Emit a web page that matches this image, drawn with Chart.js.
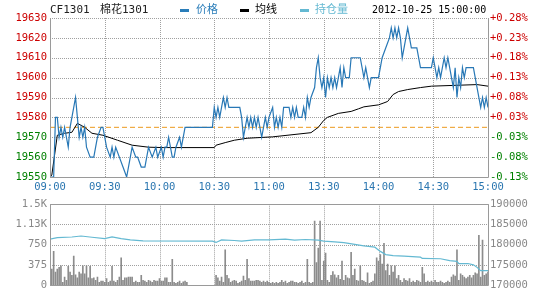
<!DOCTYPE html>
<html lang="zh-CN">
<head>
<meta charset="UTF-8">
<title>CF1301 棉花1301 分时</title>
<script src="https://cdn.jsdelivr.net/npm/chart.js"></script>
<style>
  body { margin: 0; background: #fff; }
  #wrap { position: relative; width: 540px; height: 300px; overflow: hidden;
          font-family: "DejaVu Sans Mono", "Noto Sans CJK SC", monospace; }
  #top { position: absolute; left: 0; top: 0; }
  #bottom { position: absolute; left: 0; top: 195px; }
  .hd { position: absolute; top: 3px; font-size: 11px; line-height: 14px; white-space: nowrap; color: #222; }
  .dash { position: absolute; top: 9px; width: 9px; height: 3px; }
</style>
</head>
<body>
<div id="wrap">
  <canvas id="top" width="540" height="195"></canvas>
  <canvas id="bottom" width="540" height="105"></canvas>
  <span class="hd" style="left:50px">CF1301</span>
  <span class="hd" style="left:100px">棉花1301</span>
  <span class="dash" style="left:180px;background:#2a7db9"></span>
  <span class="hd" style="left:196px;color:#2a7db9">价格</span>
  <span class="dash" style="left:240px;background:#000"></span>
  <span class="hd" style="left:255px;color:#000">均线</span>
  <span class="dash" style="left:300px;background:#64b9d2"></span>
  <span class="hd" style="left:315px;color:#64b9d2">持仓量</span>
  <span class="hd" style="left:372px;font-size:10px;color:#000">2012-10-25 15:00:00</span>
</div>

<script>
// minutes on the merged trading clock: 0 = 09:00, 150 = 11:30 = 13:30, 240 = 15:00
const timeTicks = [0, 30, 60, 90, 120, 150, 180, 210, 240];
const timeLabels = ['09:00', '09:30', '10:00', '10:30', '11:00', '13:30', '14:00', '14:30', '15:00'];

const prevSettle = 19575;
const priceTicks = [19550, 19560, 19570, 19580, 19590, 19600, 19610, 19620, 19630];
const pctLabels = ['-0.13%', '-0.08%', '-0.03%', '+0.03%', '+0.08%', '+0.13%', '+0.18%', '+0.23%', '+0.28%'];

const volTicks = [0, 375, 750, 1125, 1500];
const volLabels = ['0', '375', '750', '1.13K', '1.5K'];
const oiTicks = [170000, 175000, 180000, 185000, 190000];

// [minute, price]
const pricePts = [
  [0,19550],[2,19550],[3,19580],[4,19580],[5,19570],[6,19575],[7,19570],[8,19575],[9,19570],[10,19565],
  [11,19575],[12,19580],[14,19590],[15,19580],[16,19570],[17,19575],[18,19570],[19,19575],[20,19565],[22,19560],
  [24,19560],[25,19565],[26,19570],[28,19575],[29,19575],[30,19570],[31,19565],[33,19560],[34,19565],[35,19560],
  [36,19565],[38,19560],[40,19555],[42,19550],[44,19560],[45,19565],[47,19560],[48,19560],[50,19555],[52,19555],
  [53,19560],[54,19565],[56,19560],[58,19565],[59,19560],[61,19565],[62,19560],[63,19565],[64,19565],[65,19570],
  [66,19565],[67,19560],[68,19560],[69,19565],[71,19570],[72,19565],[74,19575],[89,19575],
  [90,19585],[91,19580],[92,19585],[93,19580],[94,19585],[95,19590],[96,19585],[97,19590],[98,19585],[104,19585],
  [105,19580],[106,19570],[108,19580],[109,19575],[110,19580],[111,19575],[112,19580],[113,19575],[114,19580],[116,19570],
  [117,19575],[118,19580],[119,19575],[120,19580],[122,19585],[123,19575],[124,19580],[125,19575],[126,19580],[127,19575],
  [128,19585],[131,19585],[132,19580],[133,19585],[134,19580],[135,19585],[136,19580],[138,19580],[139,19585],[140,19580],
  [141,19590],[142,19585],[143,19590],[145,19595],[146,19605],[147,19610],[148,19600],[149,19595],[150,19600],[151,19590],
  [152,19600],[153,19595],[154,19600],[155,19595],[156,19600],[157,19595],[158,19600],[159,19605],[160,19595],[161,19605],
  [162,19600],[164,19600],[165,19610],[170,19610],[171,19605],[172,19600],[173,19605],[174,19600],[175,19595],[176,19600],
  [180,19600],[181,19605],[182,19610],[184,19615],[186,19620],[187,19625],[188,19620],[189,19625],[190,19620],[191,19625],
  [192,19620],[193,19610],[194,19615],[195,19620],[196,19625],[198,19615],[201,19615],[203,19605],[209,19605],[210,19610],
  [211,19605],[212,19600],[213,19605],[214,19600],[216,19610],[217,19605],[218,19610],[219,19605],[220,19600],[221,19595],
  [222,19605],[223,19590],[224,19600],[225,19595],[226,19605],[227,19600],[228,19605],[232,19605],[233,19600],[234,19595],
  [235,19590],[236,19585],[237,19590],[238,19585],[239,19590],[240,19585]
];

// [minute, average price]
const avgPts = [
  [0,19550],[1,19551],[4,19571],[8,19572],[12,19572.5],[15,19577],[19,19575],[23,19572],[29,19571],[37,19568.5],
  [45,19566],[54,19565],[62,19564.8],[90,19564.8],[91,19566],[96,19567.3],[101,19568.5],[108,19569.5],[122,19570.2],
  [143,19572.3],[147,19575],[150,19578.5],[152,19580],[158,19582],[165,19583],[169,19584.3],[172,19585.3],[180,19586.3],
  [183,19587.3],[185,19588],[188,19591.5],[191,19593],[196,19594],[203,19595],[209,19595.7],[234,19596.5],[240,19595.7]
];

// [minute, open interest]
const oiPts = [
  [0,181350],[4,181740],[12,181900],[17,182140],[23,181830],[30,181500],[34,181900],[39,181500],[44,181190],[51,180950],
  [89,180870],[91,180550],[94,181190],[101,181030],[105,180870],[112,181190],[120,181190],[129,181350],[134,181120],[140,181270],
  [147,181120],[150,180870],[156,180710],[161,180480],[167,180080],[172,179680],[178,179370],[181,178330],[184,177540],[188,177300],
  [194,177140],[203,176900],[204,176590],[214,176510],[219,176030],[223,175870],[224,175320],[229,175320],[232,175000],[234,174370],
  [236,173570],[240,173570]
];

// volume per minute: 09:01-10:15, 10:31-11:30, 13:31-15:00
const volS1 = [298,625,238,298,327,357,48,149,89,345,238,179,536,190,131,238,208,357,208,357,
  131,345,119,131,89,149,48,71,71,48,119,48,71,345,71,48,89,149,506,89,
  131,131,149,149,149,48,71,48,48,179,89,71,48,89,71,48,89,71,71,119,
  71,71,131,131,48,48,476,48,30,48,71,30,60,71,48];
const volS2 = [179,131,71,149,48,655,179,119,48,71,89,71,30,48,71,167,89,476,119,71,
  71,71,89,89,71,48,71,48,71,48,30,48,30,48,30,48,89,48,71,30,
  48,71,71,48,48,30,48,71,30,48,476,48,30,48,1190,416,684,1190,89,446];
const volS3 = [595,89,48,179,250,190,131,179,107,446,89,179,131,119,607,179,298,89,71,357,
  89,71,48,226,30,48,71,208,506,446,565,387,774,268,387,179,357,238,357,119,
  179,89,48,119,89,71,119,48,71,48,89,71,48,327,208,48,71,48,71,48,
  89,48,48,71,48,30,48,71,48,149,190,167,655,89,208,179,149,119,149,179,
  131,179,226,208,922,149,833,179,208,238];

const red = '#cc0000', green = '#008000', gridCol = '#a0a0a0', frameCol = '#9a9a9a';
const tickFont = { family: 'DejaVu Sans Mono', size: 10.5 };

const pts = arr => arr.map(p => ({ x: p[0], y: p[1] }));
const volData = [];
volS1.forEach((v, i) => volData.push({ x: 1 + i, y: v }));
volS2.forEach((v, i) => volData.push({ x: 91 + i, y: v }));
volS3.forEach((v, i) => volData.push({ x: 151 + i, y: v }));

const setTicks = list => scale => { scale.ticks = list.map(v => ({ value: v })); };
const fixW = w => scale => { scale.width = w; };

const xAxis = (showLabels) => ({
  type: 'linear', min: 0, max: 240, offset: false,
  afterBuildTicks: setTicks(timeTicks),
  afterFit: scale => { scale.height = showLabels ? 18 : 0; },
  grid: { display: false, drawTicks: false },
  border: { display: false },
  ticks: {
    display: showLabels, padding: 4, maxRotation: 0, autoSkip: false,
    color: '#2a76b0', font: tickFont,
    callback: (v, i) => timeLabels[i]
  }
});

// dotted grid at the ticks of the x axis and of one y axis, then a solid frame
const panelPlugin = (yId, sides) => ({
  id: 'panel',
  beforeDatasetsDraw(chart) {
    const { ctx, chartArea: a, scales } = chart;
    ctx.save();
    ctx.strokeStyle = gridCol;
    ctx.lineWidth = 1;
    ctx.setLineDash([1, 1]);
    ctx.beginPath();
    scales.x.ticks.forEach(t => {
      const px = Math.round(scales.x.getPixelForValue(t.value)) + 0.5;
      ctx.moveTo(px, a.top); ctx.lineTo(px, a.bottom);
    });
    scales[yId].ticks.forEach(t => {
      const py = Math.round(scales[yId].getPixelForValue(t.value)) + 0.5;
      ctx.moveTo(a.left, py); ctx.lineTo(a.right, py);
    });
    ctx.stroke();
    ctx.restore();
  },
  afterDraw(chart) {
    const { ctx, chartArea: a } = chart;
    const l = Math.round(a.left) + 0.5, r = Math.round(a.right) + 0.5;
    const t = Math.round(a.top) + 0.5, b = Math.round(a.bottom) + 0.5;
    ctx.save();
    ctx.strokeStyle = frameCol;
    ctx.lineWidth = 1;
    ctx.beginPath();
    if (sides.includes('t')) { ctx.moveTo(l, t); ctx.lineTo(r, t); }
    if (sides.includes('b')) { ctx.moveTo(l, b); ctx.lineTo(r, b); }
    if (sides.includes('l')) { ctx.moveTo(l, t); ctx.lineTo(l, b); }
    if (sides.includes('r')) { ctx.moveTo(r, t); ctx.lineTo(r, b); }
    ctx.stroke();
    ctx.restore();
  }
});

new Chart(document.getElementById('top'), {
  type: 'line',
  data: {
    datasets: [
      { label: '价格', data: pts(pricePts), borderColor: '#2878b6', borderWidth: 1.2, pointRadius: 0, tension: 0 },
      { label: '均线', data: pts(avgPts), borderColor: '#000', borderWidth: 1, pointRadius: 0, tension: 0 },
      { label: '昨结', data: [{ x: 0, y: prevSettle }, { x: 240, y: prevSettle }],
        borderColor: '#ec9a1e', borderWidth: 1, borderDash: [5, 3], pointRadius: 0 }
    ]
  },
  options: {
    responsive: false, animation: false, events: [],
    layout: { padding: { top: 18 } },
    plugins: { legend: { display: false }, tooltip: { enabled: false } },
    scales: {
      x: xAxis(true),
      y: {
        position: 'left', min: 19550, max: 19630,
        afterBuildTicks: setTicks(priceTicks), afterFit: fixW(50),
        grid: { display: false, drawTicks: false },
        border: { display: false },
        ticks: { padding: 3, font: tickFont, color: c => c.tick.value > prevSettle ? red : green,
                 callback: v => String(v) }
      },
      yR: {
        position: 'right', min: 19550, max: 19630,
        afterBuildTicks: setTicks(priceTicks), afterFit: fixW(52),
        grid: { display: false, drawTicks: false },
        border: { display: false },
        ticks: { padding: 2, font: tickFont, color: c => c.tick.value > prevSettle ? red : green,
                 callback: (v, i) => pctLabels[i] }
      }
    }
  },
  plugins: [panelPlugin('y', 'lrb')]
});

new Chart(document.getElementById('bottom'), {
  type: 'bar',
  data: {
    datasets: [
      { type: 'line', label: '持仓量', data: pts(oiPts), yAxisID: 'yOI',
        borderColor: '#64b9d2', borderWidth: 1.2, pointRadius: 0, tension: 0 },
      { type: 'bar', label: '成交量', data: volData, yAxisID: 'yV',
        backgroundColor: '#8c8c8c', barThickness: 1 }
    ]
  },
  options: {
    responsive: false, animation: false, events: [],
    layout: { padding: { top: 6, bottom: 15 } },
    plugins: { legend: { display: false }, tooltip: { enabled: false } },
    scales: {
      x: xAxis(false),
      yV: {
        position: 'left', min: 0, max: 1500,
        afterBuildTicks: setTicks(volTicks), afterFit: fixW(50),
        grid: { display: false, drawTicks: false },
        border: { display: false },
        ticks: { padding: 3, font: tickFont, color: '#888', callback: (v, i) => volLabels[i] }
      },
      yOI: {
        position: 'right', min: 170000, max: 190000,
        afterBuildTicks: setTicks(oiTicks), afterFit: fixW(52),
        grid: { display: false, drawTicks: false },
        border: { display: false },
        ticks: { padding: 2, font: tickFont, color: '#888', callback: v => String(v) }
      }
    }
  },
  plugins: [panelPlugin('yV', 'lrtb')]
});
</script>
</body>
</html>
